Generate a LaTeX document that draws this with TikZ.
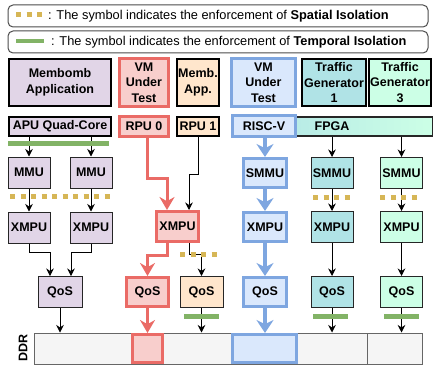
\documentclass[tikz,border=0pt]{standalone}
\usepackage{fontspec}
\setmainfont{Liberation Sans}
\usetikzlibrary{arrows.meta,calc}
\definecolor{purp}{HTML}{E1D5E7}
\definecolor{redF}{HTML}{F8CECC}
\definecolor{redS}{HTML}{EA6B66}
\definecolor{blueF}{HTML}{DAE8FC}
\definecolor{blueS}{HTML}{7EA6E0}
\definecolor{orng}{HTML}{FFE6CC}
\definecolor{teal}{HTML}{B0E3E6}
\definecolor{mint}{HTML}{CCFFE6}
\definecolor{gold}{HTML}{D6B656}
\definecolor{grn}{HTML}{82B366}
\definecolor{ddrF}{HTML}{F5F5F5}
\definecolor{ddrS}{HTML}{666666}
\begin{document}
\begin{tikzpicture}[x=1pt,y=-1pt,
  font=\bfseries\fontsize{12.5}{15.5}\selectfont,
  base/.style={rectangle, inner sep=0pt, align=center, text=black},
  thinbox/.style={base, draw=black!85, line width=1pt},
  thickbox/.style={base, draw=black, line width=2pt},
  redbox/.style={base, draw=redS, fill=redF, line width=3pt},
  bluebox/.style={base, draw=blueS, fill=blueF, line width=3pt},
  legbox/.style={base, draw=black!70, line width=1pt, rounded corners=5pt, fill=white},
  arr/.style={draw=black, line width=0.8pt, -{Stealth[length=7.5pt,width=7.5pt]}},
  rarr/.style={draw=redS, line width=3pt, -{Stealth[length=13pt,width=15pt]}},
  barr/.style={draw=blueS, line width=4pt, -{Stealth[length=13pt,width=17pt]}},
  spat/.style={draw=gold, line width=5pt, dash pattern=on 5pt off 5.5pt},
  temp/.style={draw=grn, line width=5pt},
  legtext/.style={font=\fontsize{12.8}{15}\selectfont, anchor=west, inner sep=0pt}
]
\useasboundingbox (0,0) rectangle (433,369);

% legend
\node[legbox, minimum width=420pt, minimum height=22pt] (leg1) at (218,16) {};
\node[legbox, minimum width=420pt, minimum height=22pt] (leg2) at (218,42) {};
\draw[spat] (16,15) -- (45,15);
\draw[draw=grn, line width=4pt] (16,41) -- (44,41);
\node[legtext] (leg1t) at (48,16) {: The symbol indicates the enforcement of \textbf{Spatial Isolation}};
\node[legtext] (leg2t) at (51,42) {: The symbol indicates the enforcement of \textbf{Temporal Isolation}};

% top row
\node[thickbox, fill=purp, minimum width=102pt, minimum height=47pt] (mb) at (60,82.5) {Membomb\\Application};
\node[redbox, minimum width=49pt, minimum height=48pt] (vmr) at (144,82.5) {VM\\Under\\Test};
\node[thickbox, fill=orng, minimum width=42pt, minimum height=47pt] (ma) at (198,82.5) {Memb.\\App.};
\node[bluebox, minimum width=64pt, minimum height=48pt] (vmb) at (263.5,82.5) {VM\\Under\\Test};
\node[thickbox, fill=teal, minimum width=64pt, minimum height=47pt] (tg1) at (334,82.5) {Traffic\\Generator\\1};
\node[thickbox, fill=mint, minimum width=62pt, minimum height=47pt] (tg3) at (400,82.5) {Traffic\\Generator\\3};

% second row
\node[thickbox, fill=purp, minimum width=102pt, minimum height=19pt] (apu) at (60,126.5) {APU Quad-Core};
\node[redbox, minimum width=49pt, minimum height=20pt] (rpu0) at (144,126.5) {RPU 0};
\node[thickbox, fill=orng, minimum width=42pt, minimum height=19pt] (rpu1) at (198,126.5) {RPU 1};
\node[base, draw=black!85, line width=1.2pt, left color=teal!80!mint, right color=mint, minimum width=160pt, minimum height=19pt] (fpga) at (353,126.5) {};
\node[base] (fpgat) at (332,126.5) {FPGA};
\node[bluebox, minimum width=63pt, minimum height=21pt] (riscv) at (264,126) {RISC-V};

% MMU / SMMU
\node[thinbox, fill=purp, minimum width=42pt, minimum height=31pt] (mmuL) at (29,172.5) {MMU};
\node[thinbox, fill=purp, minimum width=42pt, minimum height=31pt] (mmuR) at (91,172.5) {MMU};
\node[bluebox, minimum width=43pt, minimum height=29pt] (smB) at (265,173) {SMMU};
\node[thinbox, fill=teal, minimum width=42pt, minimum height=31pt] (smT) at (332,173) {SMMU};
\node[thinbox, fill=mint, minimum width=42pt, minimum height=31pt] (smG) at (401.5,173) {SMMU};

% XMPU
\node[thinbox, fill=purp, minimum width=42pt, minimum height=31pt] (xL) at (29,227.5) {XMPU};
\node[thinbox, fill=purp, minimum width=42pt, minimum height=31pt] (xR) at (91,227.5) {XMPU};
\node[redbox, minimum width=42pt, minimum height=30pt] (xr) at (177.5,226.5) {XMPU};
\node[bluebox, minimum width=43pt, minimum height=29pt] (xB) at (265,227) {XMPU};
\node[thinbox, fill=teal, minimum width=42pt, minimum height=31pt] (xT) at (332,227) {XMPU};
\node[thinbox, fill=mint, minimum width=42pt, minimum height=31pt] (xG) at (401.5,227) {XMPU};

% QoS
\node[thinbox, fill=purp, minimum width=44pt, minimum height=31pt] (qp) at (60,292) {QoS};
\node[redbox, minimum width=42pt, minimum height=29pt] (qr) at (147.5,292) {QoS};
\node[thinbox, fill=orng, minimum width=43pt, minimum height=31pt] (qo) at (201.5,292) {QoS};
\node[bluebox, minimum width=43pt, minimum height=29pt] (qB) at (265,292) {QoS};
\node[thinbox, fill=teal, minimum width=42pt, minimum height=31pt] (qT) at (332,292) {QoS};
\node[thinbox, fill=mint, minimum width=42pt, minimum height=31pt] (qG) at (401.5,292) {QoS};

% DDR
\node[base, draw=ddrS, fill=ddrF, line width=1pt, minimum width=388pt, minimum height=31pt] (ddr) at (228,348.5) {};
\draw[draw=ddrS, line width=1pt] (367,333) -- (367,364);
\node[redbox, minimum width=30pt, minimum height=28pt] (ddrR) at (147.5,348.5) {};
\node[bluebox, minimum width=64pt, minimum height=28pt] (ddrB) at (264.5,348.5) {};
\node[base, rotate=90] (ddrl) at (23,348) {DDR};

% APU column arrows
\draw[arr] (mmuL.north |- apu.south) -- (mmuL.north);
\draw[arr] (mmuR.north |- apu.south) -- (mmuR.north);
\draw[arr] (mmuL.south) -- (xL.north);
\draw[arr] (mmuR.south) -- (xR.north);
\draw[arr] (xL.south) -- ++(0,9) -| ([xshift=-10pt]qp.north);
\draw[arr] (xR.south) -- ++(0,9) -| ([xshift=11pt]qp.north);
\draw[arr] (qp.south) -- (qp.south |- ddr.north);

% RPU columns
\draw[arr] (rpu1.south) -- ++(0,37) -| ([xshift=11.5pt]xr.north);
\draw[rarr] ([xshift=3pt]rpu0.south) -- ++(0,40) -| ([xshift=-10.5pt]xr.north);
\draw[rarr] ([xshift=-10.5pt]xr.south) -- ++(0,12) -| (qr.north);
\draw[arr] ([xshift=11.5pt]xr.south) -- ++(0,11) -| (qo.north);
\draw[rarr] (qr.south) -- (ddrR.north);
\draw[arr] (qo.south) -- (qo.south |- ddr.north);

% blue column
\draw[barr] (riscv.south -| smB.north) -- (smB.north);
\draw[barr] (smB.south) -- (xB.north);
\draw[barr] (xB.south) -- (qB.north);
\draw[barr] (qB.south) -- (qB.south |- ddrB.north);

% FPGA columns
\draw[arr] (smT.north |- fpga.south) -- (smT.north);
\draw[arr] (smT.south) -- (xT.north);
\draw[arr] (xT.south) -- (qT.north);
\draw[arr] (qT.south) -- (qT.south |- ddr.north);
\draw[arr] (smG.north |- fpga.south) -- (smG.north);
\draw[arr] (smG.south) -- (xG.north);
\draw[arr] (xG.south) -- (qG.north);
\draw[arr] (qG.south) -- (qG.south |- ddr.north);

% isolation markers
\draw[spat] (10,196) -- (113,196);
\draw[spat] (180,254) -- (220,254);
\draw[spat] (313,197) -- (352,197);
\draw[spat] (380,197) -- (419,197);
\draw[temp] (8,143.5) -- (109,143.5);
\draw[temp] (184,316) -- (219,316);
\draw[temp] (313,316) -- (348,316);
\draw[temp] (384,316) -- (419,316);
\end{tikzpicture}
\end{document}
